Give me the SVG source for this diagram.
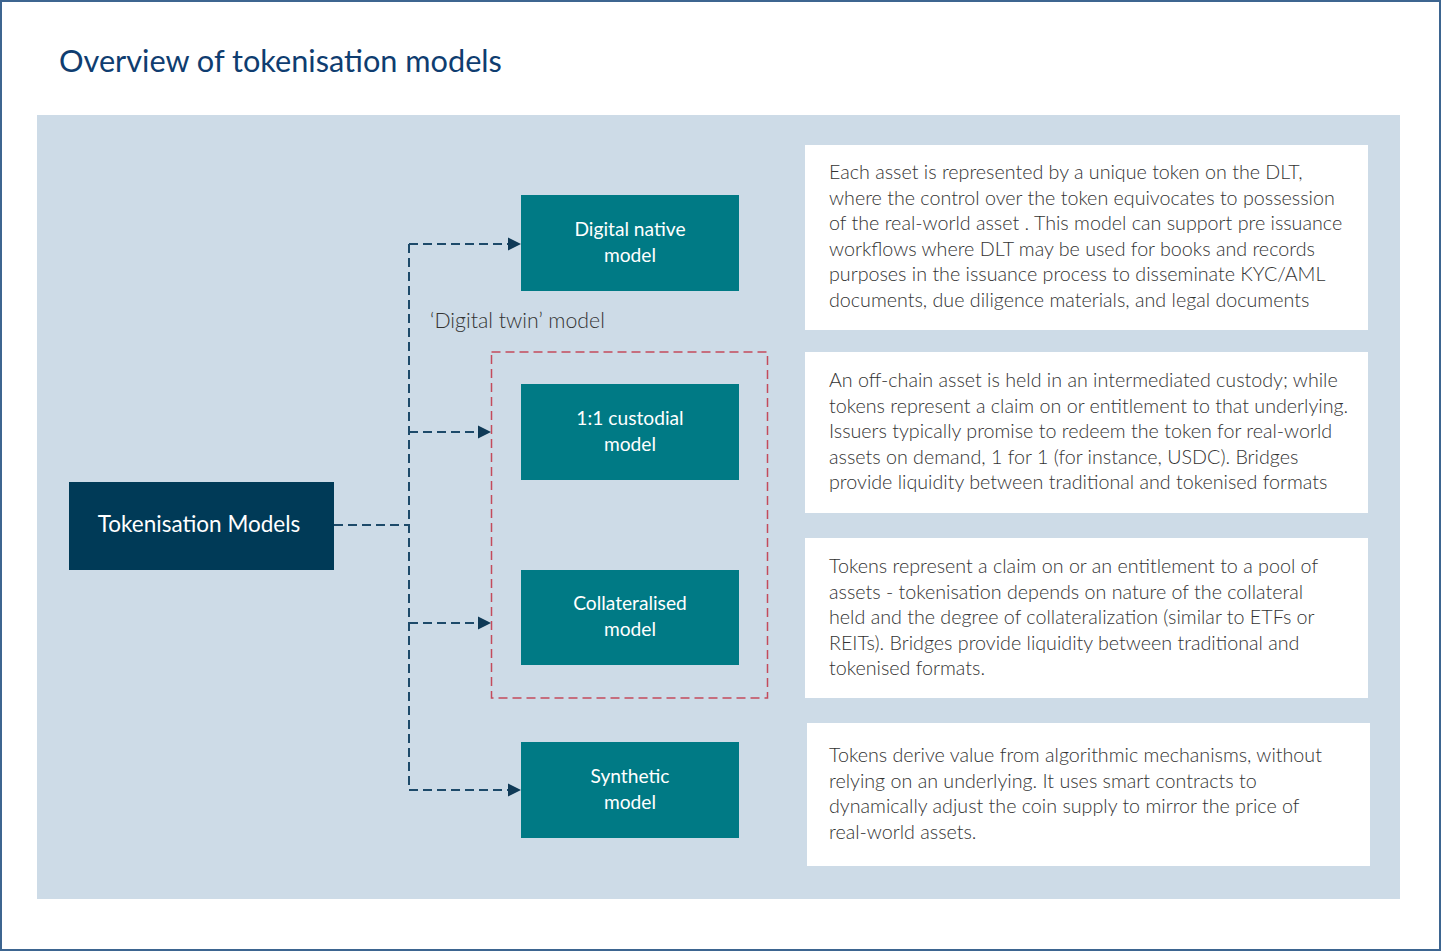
<svg xmlns="http://www.w3.org/2000/svg" width="1441" height="951" viewBox="0 0 1441 951">
<defs>
<style>
.frame{fill:#ffffff;stroke:#3d6590;stroke-width:2}
.panel{fill:#cddbe7}
.title{font-family:Lato,"Liberation Sans",sans-serif;font-size:30.7px;fill:#0f3d70}
.root{fill:#003a57}
.model{fill:#007a85}
.ntext{font-family:Lato,"Liberation Sans",sans-serif;font-size:19.2px;fill:#ffffff;text-anchor:middle}
.rtext{font-family:Lato,"Liberation Sans",sans-serif;font-size:22.5px;fill:#ffffff;text-anchor:middle}
.desc{fill:#ffffff}
.dtext{font-family:Lato,"Liberation Sans",sans-serif;font-size:19.7px;font-weight:300;fill:#333333}
.label{font-family:Lato,"Liberation Sans",sans-serif;font-size:21.3px;font-weight:300;fill:#333333}
.conn{fill:none;stroke:#1d4a6a;stroke-width:2;stroke-dasharray:9 5}
.grp{fill:none;stroke:#c44b5c;stroke-width:1.5;stroke-dasharray:9 5}
</style>
<marker id="arr" viewBox="0 0 10 10" refX="10" refY="5" markerWidth="6.5" markerHeight="7" orient="auto" markerUnits="strokeWidth">
<path d="M0,0 L10,5 L0,10 z" fill="#0f3a57"/>
</marker>
</defs>
<rect class="frame" x="1" y="1" width="1439" height="949"/>
<text class="title" x="59" y="72">Overview of tokenisation models</text>
<rect class="panel" x="37" y="115" width="1363" height="784"/>

<g id="group-digital-twin">
<rect class="grp" x="491.5" y="352" width="276" height="346"/>
<text class="label" x="430" y="328">‘Digital twin’ model</text>
</g>

<g id="connectors">
<path class="conn" d="M334,525 H409"/>
<path class="conn" d="M409,244 V790"/>
<path class="conn" d="M409,244 H521" marker-end="url(#arr)"/>
<path class="conn" d="M409,432 H491" marker-end="url(#arr)"/>
<path class="conn" d="M409,623 H491" marker-end="url(#arr)"/>
<path class="conn" d="M409,790 H521" marker-end="url(#arr)"/>
</g>

<g id="tokenisation-models">
<rect class="root" x="69" y="482" width="265" height="88"/>
<text class="rtext" x="199" y="532">Tokenisation Models</text>
</g>

<g id="digital-native">
<rect class="model" x="521" y="195" width="218" height="96"/>
<text class="ntext" x="630" y="236">Digital native</text>
<text class="ntext" x="630" y="262">model</text>
</g>

<g id="custodial">
<rect class="model" x="521" y="384" width="218" height="96"/>
<text class="ntext" x="630" y="425">1:1 custodial</text>
<text class="ntext" x="630" y="451">model</text>
</g>

<g id="collateralised">
<rect class="model" x="521" y="570" width="218" height="95"/>
<text class="ntext" x="630" y="610">Collateralised</text>
<text class="ntext" x="630" y="636">model</text>
</g>

<g id="synthetic">
<rect class="model" x="521" y="742" width="218" height="96"/>
<text class="ntext" x="630" y="783">Synthetic</text>
<text class="ntext" x="630" y="809">model</text>
</g>

<g id="desc-digital-native">
<rect class="desc" x="805" y="145" width="563" height="185"/>
<text class="dtext" x="829" y="179">Each asset is represented by a unique token on the DLT,</text>
<text class="dtext" x="829" y="204.6">where the control over the token equivocates to possession</text>
<text class="dtext" x="829" y="230.2">of the real-world asset . This model can support pre issuance</text>
<text class="dtext" x="829" y="255.8">workflows where DLT may be used for books and records</text>
<text class="dtext" x="829" y="281.4">purposes in the issuance process to disseminate KYC/AML</text>
<text class="dtext" x="829" y="307">documents, due diligence materials, and legal documents</text>
</g>

<g id="desc-custodial">
<rect class="desc" x="805" y="352" width="563" height="161"/>
<text class="dtext" x="829" y="387">An off-chain asset is held in an intermediated custody; while</text>
<text class="dtext" x="829" y="412.6">tokens represent a claim on or entitlement to that underlying.</text>
<text class="dtext" x="829" y="438.2">Issuers typically promise to redeem the token for real-world</text>
<text class="dtext" x="829" y="463.8">assets on demand, 1 for 1 (for instance, USDC). Bridges</text>
<text class="dtext" x="829" y="489.4">provide liquidity between traditional and tokenised formats</text>
</g>

<g id="desc-collateralised">
<rect class="desc" x="805" y="538" width="563" height="160"/>
<text class="dtext" x="829" y="573">Tokens represent a claim on or an entitlement to a pool of</text>
<text class="dtext" x="829" y="598.6">assets - tokenisation depends on nature of the collateral</text>
<text class="dtext" x="829" y="624.2">held and the degree of collateralization (similar to ETFs or</text>
<text class="dtext" x="829" y="649.8">REITs). Bridges provide liquidity between traditional and</text>
<text class="dtext" x="829" y="675.4">tokenised formats.</text>
</g>

<g id="desc-synthetic">
<rect class="desc" x="807" y="723" width="563" height="143"/>
<text class="dtext" x="829" y="762">Tokens derive value from algorithmic mechanisms, without</text>
<text class="dtext" x="829" y="787.6">relying on an underlying. It uses smart contracts to</text>
<text class="dtext" x="829" y="813.2">dynamically adjust the coin supply to mirror the price of</text>
<text class="dtext" x="829" y="838.8">real-world assets.</text>
</g>
</svg>
